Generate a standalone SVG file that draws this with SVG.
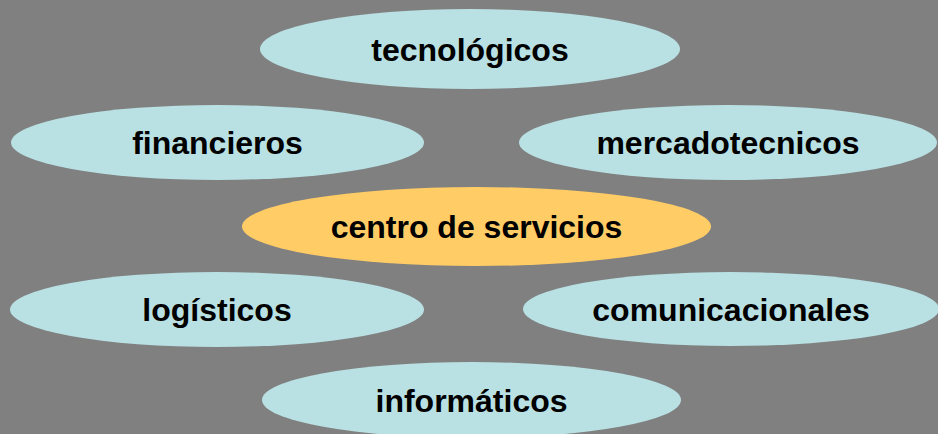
<svg xmlns="http://www.w3.org/2000/svg" width="938" height="434" viewBox="0 0 938 434">
<style>
.n{fill:#B9E0E3}
.c{fill:#FFCC66}
text{font-family:"Liberation Sans",Arial,sans-serif;font-weight:bold;font-size:32px;fill:#000;text-anchor:middle}
</style>
<rect width="938" height="434" fill="#808080"/>
<g id="connectors"/>
<g id="tecnologicos"><ellipse class="n" cx="470" cy="49" rx="210" ry="40"/><text x="470" y="60.5">tecnológicos</text></g>
<g id="financieros"><ellipse class="n" cx="217.5" cy="142.5" rx="206.5" ry="37.5"/><text x="217.5" y="154">financieros</text></g>
<g id="mercadotecnicos"><ellipse class="n" cx="728" cy="142.5" rx="209" ry="37.5"/><text x="728" y="154">mercadotecnicos</text></g>
<g id="centro"><ellipse class="c" cx="476.5" cy="226.5" rx="234.5" ry="39.5"/><text x="476.5" y="238">centro de servicios</text></g>
<g id="logisticos"><ellipse class="n" cx="217" cy="309.5" rx="207" ry="37.5"/><text x="217" y="321">logísticos</text></g>
<g id="comunicacionales"><ellipse class="n" cx="731" cy="309" rx="208" ry="37"/><text x="731" y="320.5">comunicacionales</text></g>
<g id="informaticos"><ellipse class="n" cx="471.5" cy="400" rx="209.5" ry="38"/><text x="471.5" y="411.5">informáticos</text></g>
</svg>
